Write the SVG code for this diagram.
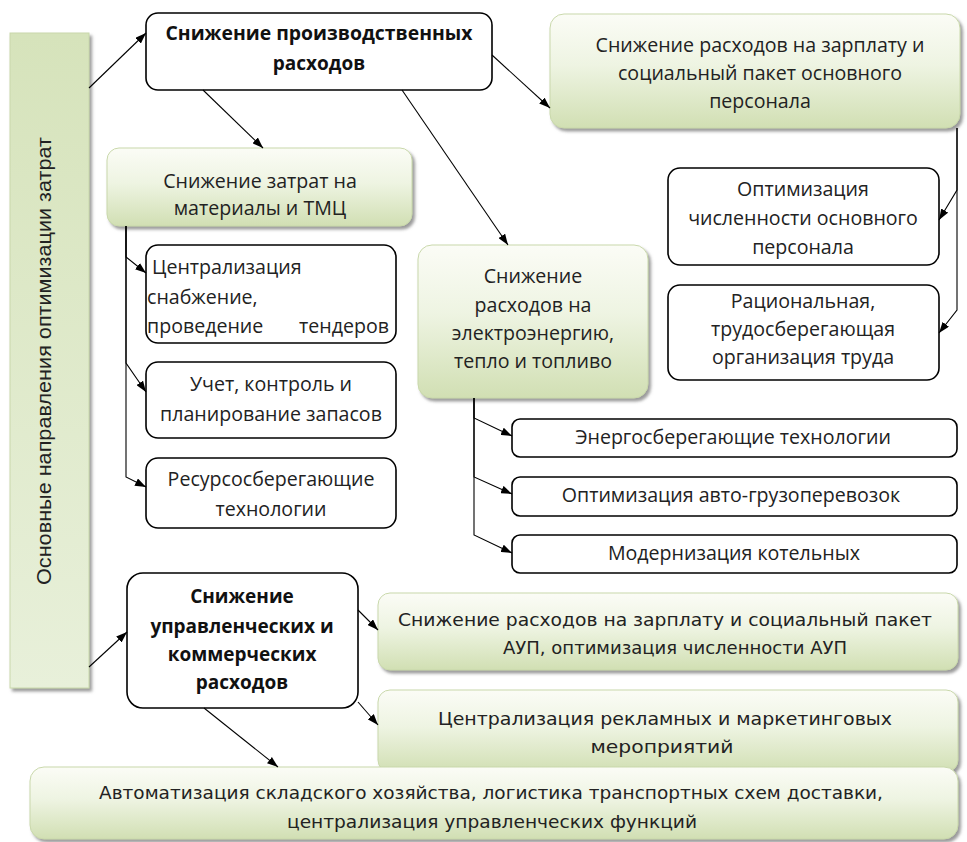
<svg xmlns="http://www.w3.org/2000/svg" width="967" height="842" viewBox="0 0 967 842">
<defs>
<linearGradient id="gGreen" x1="0" y1="0" x2="0" y2="1">
<stop offset="0" stop-color="#fbfcf6"/>
<stop offset="0.45" stop-color="#eef4e2"/>
<stop offset="1" stop-color="#d1dfb3"/>
</linearGradient>
<linearGradient id="gLeft" x1="0" y1="0" x2="0" y2="1">
<stop offset="0" stop-color="#d6e3bb"/>
<stop offset="1" stop-color="#e8f0da"/>
</linearGradient>
<filter id="shadow" x="-5%" y="-5%" width="115%" height="120%">
<feDropShadow dx="2.5" dy="3" stdDeviation="1.5" flood-color="#7a7a7a" flood-opacity="0.75"/>
</filter>
<marker id="arr" markerUnits="userSpaceOnUse" markerWidth="11" markerHeight="8" refX="11" refY="4" orient="auto">
<path d="M0,0 L11,4 L0,8 z" fill="#000"/>
</marker>
</defs>
<style>
.green{fill:url(#gGreen);stroke:#c9d8ab;stroke-width:1;filter:url(#shadow)}
.white{fill:#fff;stroke:#000;stroke-width:1.6}
.t{font-family:"Open Sans","DejaVu Sans",sans-serif;font-size:19.6px;fill:#222;text-anchor:middle}
.tl{font-family:"Open Sans","DejaVu Sans",sans-serif;font-size:19.6px;fill:#222}
.b{font-family:"Open Sans","DejaVu Sans",sans-serif;font-size:19px;font-weight:bold;fill:#111;text-anchor:middle}
.v{font-family:"DejaVu Sans",sans-serif;font-size:17px;fill:#222;text-anchor:middle}
.r{font-family:"Liberation Sans",Arial,sans-serif;font-size:20px;fill:#222;text-anchor:middle}
.c{fill:none;stroke:#000;stroke-width:1.1;marker-end:url(#arr)}
</style>
<rect width="967" height="842" fill="#fff"/>

<g id="main">
<rect x="10" y="33" width="79" height="655" fill="url(#gLeft)" stroke="#c9d8ab" stroke-width="1" filter="url(#shadow)"/>
<text class="r" x="51" y="361" transform="rotate(-90 51 361)" textLength="448" lengthAdjust="spacingAndGlyphs">Основные направления оптимизации затрат</text>
</g>

<g id="prod">
<rect class="white" x="146" y="13" width="346" height="77" rx="12"/>
<text class="b" x="319" y="40" textLength="307" lengthAdjust="spacingAndGlyphs">Снижение производственных</text>
<text class="b" x="319" y="70">расходов</text>
</g>

<g id="salary">
<rect class="green" x="550" y="14" width="410" height="114" rx="14"/>
<text class="t" x="760" y="52">Снижение расходов на зарплату и</text>
<text class="t" x="760" y="80">социальный пакет основного</text>
<text class="t" x="760" y="108">персонала</text>
</g>

<g id="materials">
<rect class="green" x="107" y="148" width="305" height="78" rx="12"/>
<text class="t" x="260" y="188">Снижение затрат на</text>
<text class="t" x="260" y="215">материалы и ТМЦ</text>
</g>

<g id="central">
<rect class="white" x="146" y="245" width="250" height="98" rx="12"/>
<text class="tl" x="152" y="274">Централизация</text>
<text class="tl" x="147" y="304">снабжение,</text>
<text class="tl" x="147" y="333">проведение</text>
<text class="tl" x="389" y="333" text-anchor="end">тендеров</text>
</g>

<g id="stock">
<rect class="white" x="146" y="362" width="250" height="76" rx="12"/>
<text class="t" x="271" y="391">Учет, контроль и</text>
<text class="t" x="271" y="421">планирование запасов</text>
</g>

<g id="resource">
<rect class="white" x="146" y="458" width="250" height="70" rx="12"/>
<text class="t" x="271" y="486">Ресурсосберегающие</text>
<text class="t" x="271" y="516">технологии</text>
</g>

<g id="energy">
<rect class="green" x="418" y="245" width="230" height="153" rx="14"/>
<text class="t" x="533" y="283">Снижение</text>
<text class="t" x="533" y="312">расходов на</text>
<text class="t" x="533" y="340">электроэнергию,</text>
<text class="t" x="533" y="368">тепло и топливо</text>
</g>

<g id="headcount">
<rect class="white" x="668" y="168" width="271" height="97" rx="12"/>
<text class="t" x="803" y="196">Оптимизация</text>
<text class="t" x="803" y="225">численности основного</text>
<text class="t" x="803" y="254">персонала</text>
</g>

<g id="labor">
<rect class="white" x="668" y="285" width="271" height="95" rx="12"/>
<text class="t" x="803" y="308">Рациональная,</text>
<text class="t" x="803" y="336">трудосберегающая</text>
<text class="t" x="803" y="364">организация труда</text>
</g>

<g id="energysave">
<rect class="white" x="512" y="419" width="445" height="38" rx="8"/>
<text class="t" x="733" y="444">Энергосберегающие технологии</text>
</g>

<g id="transport">
<rect class="white" x="512" y="477" width="445" height="39" rx="8"/>
<text class="t" x="731" y="502">Оптимизация авто-грузоперевозок</text>
</g>

<g id="boilers">
<rect class="white" x="512" y="535" width="445" height="38" rx="8"/>
<text class="t" x="734" y="560">Модернизация котельных</text>
</g>

<g id="admin">
<rect class="white" x="127" y="573" width="231" height="135" rx="16"/>
<text class="b" x="242" y="603">Снижение</text>
<text class="b" x="242" y="633">управленческих и</text>
<text class="b" x="242" y="661">коммерческих</text>
<text class="b" x="242" y="689">расходов</text>
</g>

<g id="aup">
<rect class="green" x="378" y="593" width="580" height="77" rx="12"/>
<text class="v" x="665" y="626" textLength="534" lengthAdjust="spacingAndGlyphs">Снижение расходов на зарплату и социальный пакет</text>
<text class="v" x="675" y="654" textLength="344" lengthAdjust="spacingAndGlyphs">АУП, оптимизация численности АУП</text>
</g>

<g id="marketing">
<rect class="green" x="378" y="690" width="580" height="82" rx="12"/>
<text class="v" x="665" y="725" style="font-size:18.5px" textLength="454" lengthAdjust="spacingAndGlyphs">Централизация рекламных и маркетинговых</text>
<text class="v" x="662" y="753" style="font-size:18.5px" textLength="143" lengthAdjust="spacingAndGlyphs">мероприятий</text>
</g>

<g id="automation">
<rect class="green" x="30" y="767" width="928" height="72" rx="14"/>
<text class="v" x="491" y="799" textLength="784" lengthAdjust="spacingAndGlyphs">Автоматизация складского хозяйства, логистика транспортных схем доставки,</text>
<text class="v" x="492" y="828" textLength="410" lengthAdjust="spacingAndGlyphs">централизация управленческих функций</text>
</g>

<g id="connectors">
<path class="c" d="M89,88 L146,33"/>
<path class="c" d="M203,90 L263,148"/>
<path class="c" d="M402,90 L508,245"/>
<path class="c" d="M492,55 L550,108"/>
<path class="c" d="M957,128 L957,190 L939,220"/>
<path class="c" d="M957,128 L957,310 L939,333"/>
<path class="c" d="M126,226 L126,257 L146,273"/>
<path class="c" d="M126,226 L126,363 L146,392"/>
<path class="c" d="M126,226 L126,477 L146,487"/>
<path class="c" d="M474,398 L474,418 L512,436"/>
<path class="c" d="M474,398 L474,477 L512,494"/>
<path class="c" d="M474,398 L474,535 L512,553"/>
<path class="c" d="M89,667 L127,632"/>
<path class="c" d="M358,610 L378,630"/>
<path class="c" d="M358,702 L378,725"/>
<path class="c" d="M204,708 L278,767"/>
</g>
</svg>
